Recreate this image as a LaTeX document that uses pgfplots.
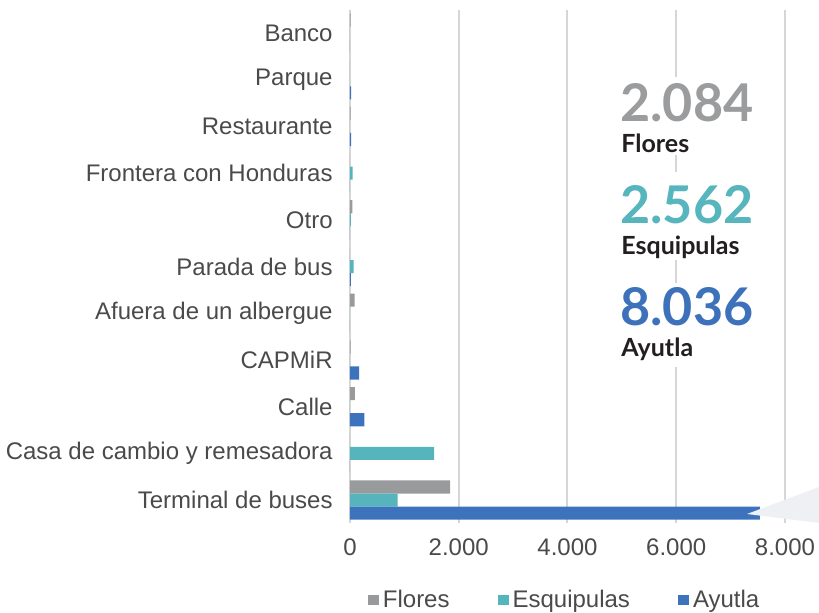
\documentclass[border=0pt]{standalone}
\usepackage{fontspec}
\setmainfont{Liberation Sans}
\newfontfamily\lato{Lato}
\usepackage{pgfplots}
\pgfplotsset{compat=1.18}

\definecolor{cFlo}{HTML}{989A9B}
\definecolor{cEsq}{HTML}{56B4BC}
\definecolor{cAyu}{HTML}{3C73BC}
\definecolor{gridc}{HTML}{D6D6D6}
\definecolor{tickc}{HTML}{4A4A4A}
\definecolor{numFlo}{HTML}{9A9C9E}
\definecolor{numEsq}{HTML}{57B5BD}
\definecolor{numAyu}{HTML}{3D72BA}
\definecolor{labc}{HTML}{231F20}
\definecolor{tric}{HTML}{EFF0F3}

\begin{document}
\begin{tikzpicture}
\begin{axis}[
  at={(0,0)}, anchor=south west,
  scale only axis, width=234.35pt, height=256.85pt,
  xbar, y dir=reverse,
  xmin=0, xmax=8620, ymin=-0.5, ymax=10.5,
  xtick={0,2000,4000,6000,8000},
  scaled x ticks=false,
  ytick={0,...,10},
  yticklabels={Banco,Parque,Restaurante,Frontera con Honduras,Otro,Parada de bus,Afuera de un albergue,CAPMiR,Calle,Casa de cambio y remesadora,Terminal de buses},
  bar width=0.28,
  axis line style={draw=none},
  major tick length=0pt,
  xmajorgrids, grid style={draw=gridc, line width=1pt},
  tick label style={font=\fontsize{12}{14}\selectfont, text=tickc},
  yticklabel style={anchor=east, inner sep=0pt, xshift=-8.5pt},
  xticklabel style={anchor=north, inner sep=0pt, yshift=-7.5pt},
  /pgf/number format/.cd, 1000 sep={.}, assume math mode=true,
  /pgfplots/.cd,
  legend columns=3,
  legend style={at={(0.46,-0.149)}, anchor=center, draw=none, fill=none,
    font=\fontsize{12}{14}\selectfont, text=tickc,
    /tikz/every even column/.append style={column sep=22pt},
    inner sep=0pt},
  legend image code/.code={\fill[#1,draw=none] (0pt,-2.6pt) rectangle (5.5pt,2.6pt);},
]
% Flores
\addplot[fill=cFlo, draw=none, bar shift=-0.28] coordinates {
 (10,0) (0,1) (10,2) (0,3) (45,4) (0,5) (85,6) (10,7) (90,8) (0,9) (1840,10)};
% Esquipulas
\addplot[fill=cEsq, draw=none, bar shift=0] coordinates {
 (0,0) (0,1) (0,2) (50,3) (15,4) (65,5) (0,6) (0,7) (0,8) (1545,9) (877,10)};
% Ayutla
\addplot[fill=cAyu, draw=none, bar shift=0.28] coordinates {
 (0,0) (20,1) (20,2) (0,3) (0,4) (15,5) (0,6) (170,7) (265,8) (0,9) (7540,10)};
\legend{Flores,Esquipulas,Ayutla}
\end{axis}
\begin{scope}[shift={(-175pt,261.7pt)}, x=0.5pt, y=-0.5pt]
  \fill[tric] (747,514) -- (819,487) -- (819,523) -- cycle;
  \fill[white] (612,77) rectangle (762,155);
  \fill[white] (612,172) rectangle (762,260);
  \fill[white] (612,283) rectangle (762,367);
  \node[anchor=base west, inner sep=0pt, text=numFlo, font=\lato\bfseries\fontsize{26}{28}\selectfont] at (620,122) {2.084};
  \node[anchor=base west, inner sep=0pt, text=labc, font=\lato\bfseries\fontsize{12.5}{15}\selectfont] at (621,153) {Flores};
  \node[anchor=base west, inner sep=0pt, text=numEsq, font=\lato\bfseries\fontsize{26}{28}\selectfont] at (620,224) {2.562};
  \node[anchor=base west, inner sep=0pt, text=labc, font=\lato\bfseries\fontsize{12.5}{15}\selectfont] at (621,255) {Esquipulas};
  \node[anchor=base west, inner sep=0pt, text=numAyu, font=\lato\bfseries\fontsize{26}{28}\selectfont] at (620,326) {8.036};
  \node[anchor=base west, inner sep=0pt, text=labc, font=\lato\bfseries\fontsize{12.5}{15}\selectfont] at (621,357) {Ayutla};
  \pgfresetboundingbox
  \path[use as bounding box] (0,0) rectangle (819,613);
\end{scope}
\end{tikzpicture}
\end{document}
